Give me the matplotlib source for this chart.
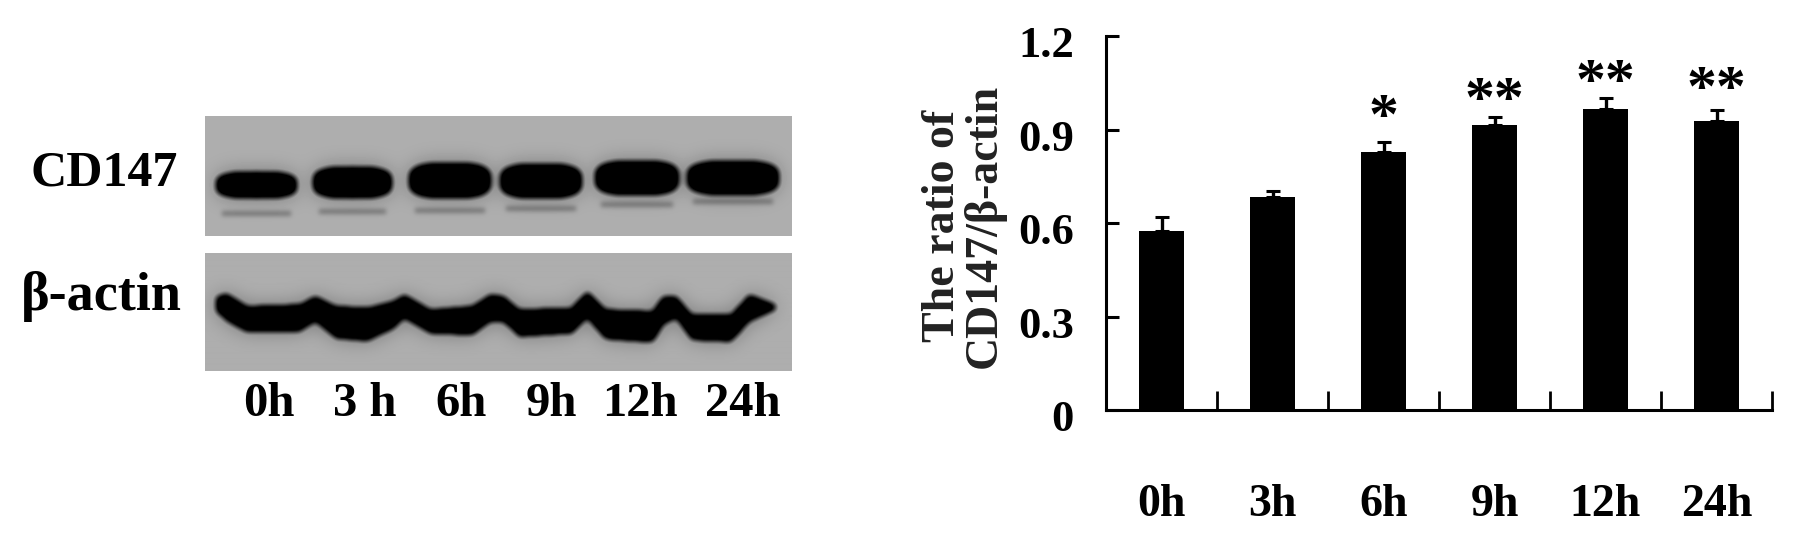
import numpy as np
import matplotlib
matplotlib.use("Agg")
import matplotlib.pyplot as plt
from matplotlib.transforms import ScaledTranslation

# ---- bar chart data
categories = ["0h", "3h", "6h", "9h", "12h", "24h"]
ratio = [0.573, 0.682, 0.828, 0.913, 0.965, 0.926]
err_up = [0.046, 0.022, 0.032, 0.026, 0.035, 0.038]
stars = ["", "", "*", "**", "**", "**"]
star_y = [0, 0, 0.845, 0.90, 0.955, 0.935]
yticks = [0, 0.3, 0.6, 0.9, 1.2]
ytick_labels = ["0", "0.3", "0.6", "0.9", "1.2"]
ylabel = "The ratio of\nCD147/\u03b2-actin"

# ---- blot data (bands, in panel pixels)
blot_labels = ["0h", "3 h", "6h", "9h", "12h", "24h"]
blot_label_x = [269, 365, 461, 551, 640, 743]
cd147_left = [10, 107, 203, 294, 389, 481]
cd147_right = [92, 187, 286, 377, 474, 574]
cd147_top = [55, 50, 46, 47, 44, 44]
cd147_bottom = [82, 82, 82, 82, 79, 79]
cd147_faint_y = [97, 95, 94, 92, 88, 85]
actin_x = [410, 430, 470, 570, 600, 640, 700, 750, 770, 820, 900, 935, 960, 990,
           1090, 1120, 1155, 1245, 1265, 1290, 1320, 1395, 1430, 1480]
actin_top = [622, 612, 650, 645, 620, 650, 655, 635, 615, 660, 650, 615, 620, 660,
             655, 605, 660, 665, 620, 620, 675, 675, 615, 645]
actin_bot = [663, 693, 727, 725, 695, 745, 753, 715, 685, 730, 735, 695, 695, 740,
             730, 685, 747, 757, 705, 685, 750, 755, 695, 660]

W, H, DPI = 1795, 543, 100
FONT = "Liberation Serif"
fig = plt.figure(figsize=(W / DPI, H / DPI), dpi=DPI, facecolor="white")


def box(l, t, r, b):
    return [l / W, 1 - b / H, (r - l) / W, (b - t) / H]


def blur(a, s):
    k = np.exp(-0.5 * (np.arange(-int(3 * s), int(3 * s) + 1) / s) ** 2)
    k /= k.sum()
    n = len(k) // 2
    a = np.pad(a, n, mode="edge")
    a = np.apply_along_axis(lambda v: np.convolve(v, k, mode="same"), 0, a)
    a = np.apply_along_axis(lambda v: np.convolve(v, k, mode="same"), 1, a)
    return a[n:-n, n:-n]


def show_blot(mask, faint, l, t, r, b):
    core = np.clip(blur(mask, 3.2) * 1.7 - 0.2, 0, 1)
    halo = blur(mask, 10)
    img = 174 * (1 - 0.2 * np.clip(halo * 1.7, 0, 1)) * (1 - 0.3 * blur(faint, 2.2))
    img = img * (1 - core)
    ax = fig.add_axes(box(l, t, r, b))
    ax.imshow(img, cmap="gray", vmin=0, vmax=255, aspect="auto", interpolation="bilinear")
    ax.set_axis_off()


# CD147 blot
pw, ph = 587, 120
yy, xx = np.mgrid[0:ph, 0:pw]
m = np.zeros((ph, pw))
f = np.zeros((ph, pw))
for x0, x1, y0, y1, fy in zip(cd147_left, cd147_right, cd147_top, cd147_bottom, cd147_faint_y):
    cx, cy = (x0 + x1) / 2, (y0 + y1) / 2
    rx, ry = (x1 - x0) / 2, (y1 - y0) / 2
    m[(np.abs((xx - cx) / rx) ** 3 + np.abs((yy - cy) / ry) ** 3) <= 1] = 1
    f[(np.abs(xx - cx) < rx * 0.85) & (np.abs(yy - fy) < 3)] = 1
show_blot(m, f, 205, 116, 792, 236)

# beta-actin blot
ph2 = 118
cols = (np.array(actin_x) - 390) / 1.912
tops = (np.array(actin_top) - 490) / 3
bots = (np.array(actin_bot) - 490) / 3
yy, xx = np.mgrid[0:ph2, 0:pw]
t_prof = np.interp(np.arange(pw), cols, tops)
b_prof = np.interp(np.arange(pw), cols, bots)
m = ((yy >= t_prof[xx]) & (yy <= b_prof[xx]) & (xx >= cols[0]) & (xx <= cols[-1])).astype(float)
show_blot(m, np.zeros_like(m), 205, 253, 792, 371)

# blot text
fig.text(104 / W, 1 - 173 / H, "CD147", family=FONT, weight="bold", size=36, ha="center", va="center")
fig.text(101 / W, 1 - 296 / H, "\u03b2-actin", family=FONT, weight="bold", size=39, ha="center", va="center")
for lab, x in zip(blot_labels, blot_label_x):
    fig.text(x / W, 1 - 404 / H, lab, family=FONT, weight="bold", size=35, ha="center", va="center")

# bar chart
ax = fig.add_axes(box(1106, 36, 1772, 410))
pos = np.arange(len(categories)) + 0.5
ax.bar(pos, ratio, width=0.405, color="black")
ax.errorbar(pos, ratio, yerr=[np.zeros(len(ratio)), err_up], fmt="none", ecolor="black",
            elinewidth=2.4, capsize=5, capthick=2.2)
ax.set_xlim(0, len(categories))
ax.set_ylim(0, 1.2)
for s in ("top", "right"):
    ax.spines[s].set_visible(False)
for s in ("left", "bottom"):
    ax.spines[s].set_linewidth(2.2)
ax.set_yticks(yticks)
ax.set_yticklabels(ytick_labels, family=FONT, weight="bold", size=32)
ax.tick_params(axis="y", direction="in", length=9, width=2.2, pad=23)
shift = ScaledTranslation(0, -4 / 72, fig.dpi_scale_trans)
for lab in ax.get_yticklabels():
    lab.set_transform(lab.get_transform() + shift)
ax.set_xticks(np.arange(1, len(categories) + 1))
ax.set_xticklabels([])
ax.tick_params(axis="x", which="major", direction="in", length=14, width=2)
ax.set_xticks(pos, minor=True)
ax.set_xticklabels(categories, minor=True, family=FONT, weight="bold", size=33)
ax.tick_params(axis="x", which="minor", length=0, pad=53)
for x, s, y in zip(pos, stars, star_y):
    if s:
        ax.text(x, y, s, family=FONT, weight="bold", size=43, ha="center", va="bottom")
fig.text(964 / W, 1 - 226 / H, ylabel, family=FONT, weight="bold", size=33, color="#222222",
         rotation=90, ha="center", va="center", multialignment="center", linespacing=0.98)
fig.savefig("out.png", dpi=DPI, facecolor="white")
